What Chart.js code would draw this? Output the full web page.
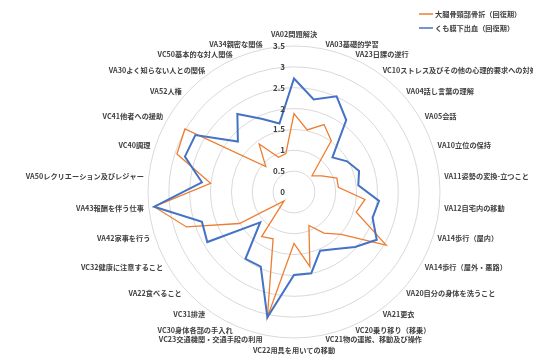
<!DOCTYPE html>
<html><head><meta charset="utf-8">
<script src="https://cdn.jsdelivr.net/npm/chart.js@4"></script>
<style>html,body{margin:0;padding:0;background:#fff;} #wrap{width:533px;height:357px;}</style>
</head><body><div id="wrap"><canvas id="c" width="533" height="357"></canvas></div>
<script>
const categories = [
 'VA02問題解決','VA03基礎的学習','VA23日課の遂行','VC10ストレス及びその他の心理的要求への対処',
 'VA04話し言葉の理解','VA05会話','VA10立位の保持','VA11姿勢の変換-立つこと','VA12自宅内の移動',
 'VA14歩行（屋内）','VA14歩行（屋外・悪路）','VA20自分の身体を洗うこと','VA21更衣','VC20乗り移り（移乗）',
 'VC21物の運搬、移動及び操作','VC22用具を用いての移動','VC23交通機関・交通手段の利用','VC30身体各部の手入れ',
 'VC31排泄','VA22食べること','VC32健康に注意すること','VA42家事を行う','VA43報酬を伴う仕事',
 'VA50レクリエーション及びレジャー','VC40調理','VC41他者への援助','VA52人権','VA30よく知らない人との関係',
 'VC50基本的な対人関係','VA34親密な関係'
];
const seriesNames = ['大腿骨頸部骨折（回復期）','くも膜下出血（回復期）'];
const femurValues = [1.88,1.52,1.77,1.52,0.58,0.77,1.08,1.07,1.71,1.57,2.55,1.52,1.22,0.88,1.83,1.23,3.07,1.23,1.32,0.32,1.51,2.71,3.37,2.01,2.95,3.02,0.91,1.42,0.91,0.94];
const sahValues   = [2.72,2.27,2.51,2.13,1.24,1.47,1.64,1.55,2.05,1.98,2.29,1.97,1.69,1.54,1.99,1.99,3.07,1.96,1.98,1.09,2.40,2.32,3.37,2.22,2.75,2.73,1.81,2.31,1.92,1.68];
const tickValues = [0,0.5,1,1.5,2,2.5,3,3.5];
const tickLabels = ['0','0.5','1','1.5','2','2.5','3','3.5'];
const seriesColors = ['#ED7D31','#4472C4'];

// layout constants
const CX = 294, CY = 192, R = 146;
const FONT = '"Noto Sans CJK JP", "Noto Sans", sans-serif';
Chart.RadialLinearScale.prototype.setCenterPoint = function(){
  this.xCenter = CX; this.yCenter = CY; this.drawingArea = R;
};

const excelLabels = {
  id: 'excelLabels',
  afterDraw(chart){
    const s = chart.scales.r, ctx = chart.ctx, n = categories.length;
    ctx.save();
    // tick labels
    ctx.font = 'bold 8px ' + FONT;
    ctx.fillStyle = '#404040';
    ctx.textAlign = 'right';
    ctx.textBaseline = 'middle';
    tickValues.forEach((v, k) => {
      ctx.fillText(tickLabels[k], s.xCenter - 9, s.yCenter - s.getDistanceFromCenterForValue(v));
    });
    // category labels
    ctx.font = 'bold 7.2px ' + FONT;
    ctx.fillStyle = '#404040';
    categories.forEach((lab, i) => {
      const th = 2 * Math.PI * i / n;
      const p = s.getPointPosition(i, s.drawingArea + 5);
      let align, y = p.y;
      if (i === 0 || 2 * i === n) { align = 'center'; y = p.y - Math.cos(th) * 7; }
      else align = (2 * i < n) ? 'left' : 'right';
      ctx.textAlign = align;
      ctx.fillText(lab, p.x, y);
    });
    // legend
    ctx.textAlign = 'left';
    chart.data.datasets.forEach((ds, k) => {
      const ly = 14 + k * 14;
      ctx.strokeStyle = ds.borderColor; ctx.lineWidth = 1.5;
      ctx.beginPath(); ctx.moveTo(419, ly); ctx.lineTo(433, ly); ctx.stroke();
      ctx.fillStyle = '#404040';
      ctx.fillText(ds.label, 435, ly);
    });
    ctx.restore();
  }
};

new Chart(document.getElementById('c'), {
  type: 'radar',
  data: {
    labels: categories,
    datasets: [
      { label: seriesNames[0], data: femurValues, borderColor: seriesColors[0], backgroundColor: 'transparent', borderWidth: 1.3, pointRadius: 0, fill: false, tension: 0, order: 1 },
      { label: seriesNames[1], data: sahValues, borderColor: seriesColors[1], backgroundColor: 'transparent', borderWidth: 2, pointRadius: 0, fill: false, tension: 0, order: 0 }
    ]
  },
  options: {
    responsive: false,
    animation: false,
    events: [],
    layout: { padding: 0 },
    plugins: { legend: { display: false }, tooltip: { enabled: false }, title: { display: false } },
    scales: {
      r: {
        min: 0, max: 3.5,
        ticks: { stepSize: 0.5, display: false },
        pointLabels: { display: false },
        angleLines: { display: false },
        grid: { circular: true, color: '#d9d9d9', lineWidth: 1 }
      }
    }
  },
  plugins: [excelLabels]
});
</script>
</body></html>
